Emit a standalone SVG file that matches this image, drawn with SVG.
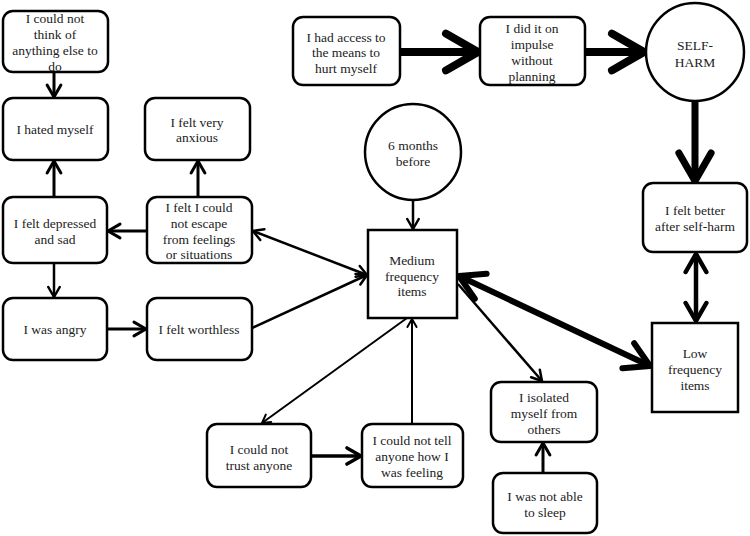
<svg xmlns="http://www.w3.org/2000/svg" width="750" height="536" viewBox="0 0 750 536" font-family="'Liberation Serif', 'DejaVu Serif', serif">
<style>
.n rect,.n circle{fill:#fff;stroke:#000;stroke-width:2.5}
.n text{font-family:'Liberation Serif','DejaVu Serif',serif;font-size:13.5px;fill:#222;text-anchor:middle}
.c line{stroke:#000;fill:none}
</style>
<defs>
<marker id="ah" viewBox="-5 -3 6 6" refX="0" refY="0" markerWidth="6" markerHeight="6" orient="auto-start-reverse" markerUnits="strokeWidth">
<path d="M-4,-2.3 L0,0 L-4,2.3" fill="none" stroke="#000" stroke-width="1" stroke-linecap="round" stroke-linejoin="round"/>
</marker>
</defs>
<rect width="750" height="536" fill="#fff"/>
<g class="c">
<line x1="54" y1="72" x2="54" y2="97" stroke-width="3" marker-end="url(#ah)"/>
<line x1="54" y1="197" x2="54" y2="161" stroke-width="3" marker-end="url(#ah)"/>
<line x1="198" y1="197" x2="198" y2="161" stroke-width="3" marker-end="url(#ah)"/>
<line x1="147" y1="231" x2="108" y2="231" stroke-width="3" marker-end="url(#ah)"/>
<line x1="54" y1="263" x2="54" y2="297" stroke-width="2.5" marker-end="url(#ah)"/>
<line x1="107" y1="329" x2="146" y2="329" stroke-width="3" marker-end="url(#ah)"/>
<line x1="252" y1="328" x2="367" y2="275" stroke-width="2.5" marker-end="url(#ah)"/>
<line x1="253" y1="231" x2="367" y2="275" stroke-width="2.5" marker-start="url(#ah)" marker-end="url(#ah)"/>
<line x1="413" y1="200" x2="413" y2="229" stroke-width="2.5" marker-end="url(#ah)"/>
<line x1="412" y1="424" x2="412" y2="319" stroke-width="2" marker-end="url(#ah)"/>
<line x1="407" y1="318" x2="262" y2="423" stroke-width="2" marker-end="url(#ah)"/>
<line x1="311" y1="456" x2="361" y2="456" stroke-width="3.5" marker-end="url(#ah)"/>
<line x1="458" y1="284" x2="542" y2="381" stroke-width="2.5" marker-end="url(#ah)"/>
<line x1="543" y1="473" x2="543" y2="443" stroke-width="3" marker-end="url(#ah)"/>
<line x1="459" y1="276" x2="650" y2="366" stroke-width="6" marker-start="url(#ah)" marker-end="url(#ah)"/>
<line x1="400" y1="52" x2="478" y2="52" stroke-width="8" marker-end="url(#ah)"/>
<line x1="585" y1="52" x2="644" y2="52" stroke-width="8" marker-end="url(#ah)"/>
<line x1="695" y1="101" x2="695" y2="181" stroke-width="7" marker-end="url(#ah)"/>
<line x1="696" y1="254" x2="696" y2="321" stroke-width="4.5" marker-start="url(#ah)" marker-end="url(#ah)"/>
</g>
<g id="think" class="n"><rect x="3" y="11" width="105" height="61" rx="10"/>
<text x="55" y="23">I could not</text><text x="55" y="39">think of</text><text x="55" y="55">anything else to</text><text x="55" y="71">do</text></g>
<g id="hated" class="n"><rect x="3" y="98" width="105" height="62" rx="10"/>
<text x="55" y="134">I hated myself</text></g>
<g id="anxious" class="n"><rect x="145" y="98" width="105" height="62" rx="10"/>
<text x="197" y="127">I felt very</text><text x="197" y="142">anxious</text></g>
<g id="depressed" class="n"><rect x="3" y="197" width="104" height="66" rx="10"/>
<text x="55" y="228">I felt depressed</text><text x="55" y="244">and sad</text></g>
<g id="escape" class="n"><rect x="147" y="197" width="105" height="66" rx="10"/>
<text x="199" y="212">I felt I could</text><text x="199" y="228">not escape</text><text x="199" y="244">from feelings</text><text x="199" y="259">or situations</text></g>
<g id="angry" class="n"><rect x="3" y="298" width="104" height="62" rx="10"/>
<text x="55" y="334">I was angry</text></g>
<g id="worthless" class="n"><rect x="147" y="298" width="105" height="62" rx="10"/>
<text x="199" y="334">I felt worthless</text></g>
<g id="access" class="n"><rect x="293" y="17" width="107" height="68" rx="10"/>
<text x="346" y="42">I had access to</text><text x="346" y="57">the means to</text><text x="346" y="73">hurt myself</text></g>
<g id="impulse" class="n"><rect x="480" y="17" width="105" height="68" rx="10"/>
<text x="532" y="33">I did it on</text><text x="532" y="49">impulse</text><text x="532" y="65">without</text><text x="532" y="81">planning</text></g>
<g id="selfharm" class="n"><circle cx="695" cy="52" r="49"/>
<text x="695" y="50">SELF-</text><text x="695" y="67">HARM</text></g>
<g id="sixmonths" class="n"><circle cx="413" cy="152" r="48"/>
<text x="413" y="150">6 months</text><text x="413" y="166">before</text></g>
<g id="medium" class="n"><rect x="368" y="230" width="89" height="88"/>
<text x="412" y="265">Medium</text><text x="412" y="281">frequency</text><text x="412" y="296">items</text></g>
<g id="better" class="n"><rect x="643" y="183" width="104" height="69" rx="10"/>
<text x="695" y="215">I felt better</text><text x="695" y="231">after self-harm</text></g>
<g id="low" class="n"><rect x="652" y="323" width="86" height="89"/>
<text x="695" y="358">Low</text><text x="695" y="374">frequency</text><text x="695" y="390">items</text></g>
<g id="isolated" class="n"><rect x="491" y="382" width="106" height="60" rx="10"/>
<text x="544" y="402">I isolated</text><text x="544" y="418">myself from</text><text x="544" y="434">others</text></g>
<g id="sleep" class="n"><rect x="493" y="473" width="104" height="60" rx="10"/>
<text x="545" y="501">I was not able</text><text x="545" y="517">to sleep</text></g>
<g id="trust" class="n"><rect x="207" y="424" width="104" height="63" rx="10"/>
<text x="259" y="454">I could not</text><text x="259" y="470">trust anyone</text></g>
<g id="tell" class="n"><rect x="362" y="424" width="101" height="63" rx="10"/>
<text x="412" y="445">I could not tell</text><text x="412" y="461">anyone how I</text><text x="412" y="477">was feeling</text></g>
</svg>
